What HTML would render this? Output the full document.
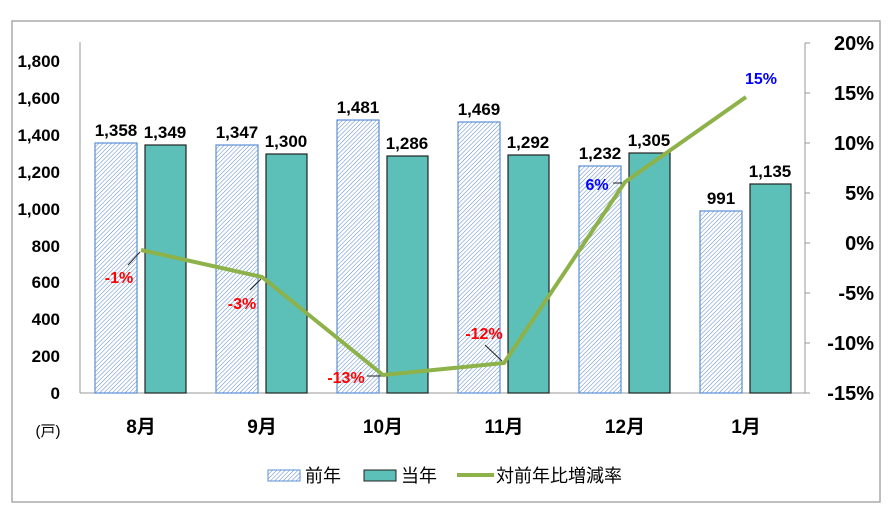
<!DOCTYPE html>
<html><head><meta charset="utf-8"><style>
body{margin:0;background:#fff;}
svg{display:block;font-family:"Liberation Sans","Noto Sans CJK JP",sans-serif;}
</style></head><body>
<svg width="892" height="524" viewBox="0 0 892 524" xmlns="http://www.w3.org/2000/svg">
<defs>
<pattern id="h" patternUnits="userSpaceOnUse" width="3" height="3" patternTransform="rotate(45)">
<rect width="3" height="3" fill="#fff"/><line x1="0" y1="0" x2="0" y2="3" stroke="#5a88cc" stroke-width="1"/>
</pattern>
</defs>
<rect x="12" y="21" width="868" height="481" fill="#fff" stroke="#aaa" stroke-width="1.5"/>
<line x1="80" y1="42" x2="80" y2="393" stroke="#999"/>
<line x1="80" y1="393" x2="805" y2="393" stroke="#999"/>
<line x1="805" y1="43" x2="805" y2="393" stroke="#999"/>
<g stroke="#999"><line x1="805" y1="43" x2="810" y2="43"/><line x1="805" y1="93" x2="810" y2="93"/><line x1="805" y1="143" x2="810" y2="143"/><line x1="805" y1="193" x2="810" y2="193"/><line x1="805" y1="243" x2="810" y2="243"/><line x1="805" y1="293" x2="810" y2="293"/><line x1="805" y1="343" x2="810" y2="343"/><line x1="805" y1="393" x2="810" y2="393"/></g>
<g font-size="17" font-weight="bold" text-anchor="end" fill="#000">
<text x="60" y="399">0</text><text x="60" y="362">200</text><text x="60" y="325">400</text><text x="60" y="288">600</text><text x="60" y="252">800</text><text x="60" y="215">1,000</text><text x="60" y="178">1,200</text><text x="60" y="141">1,400</text><text x="60" y="104">1,600</text><text x="60" y="67">1,800</text>
</g>
<g font-size="20" font-weight="bold" text-anchor="end" fill="#000">
<text x="874" y="50">20%</text><text x="874" y="100">15%</text><text x="874" y="150">10%</text><text x="874" y="200">5%</text><text x="874" y="250">0%</text><text x="874" y="300">-5%</text><text x="874" y="350">-10%</text><text x="874" y="400">-15%</text>
</g>
<text x="48" y="436" font-size="15" text-anchor="middle">(戸)</text>
<g font-size="19" font-weight="bold" text-anchor="middle">
<text x="141" y="433">8月</text><text x="262" y="433">9月</text><text x="383" y="433">10月</text><text x="504" y="433">11月</text><text x="625" y="433">12月</text><text x="746" y="433">1月</text>
</g>
<g stroke-width="1.2">
<rect x="95" y="143" width="42" height="250" fill="url(#h)" stroke="#5b8fd6"/>
<rect x="145" y="145" width="41" height="248" fill="#5cbfb8" stroke="#222"/>
<rect x="216" y="145" width="42" height="248" fill="url(#h)" stroke="#5b8fd6"/>
<rect x="266" y="154" width="41" height="239" fill="#5cbfb8" stroke="#222"/>
<rect x="337" y="120" width="42" height="273" fill="url(#h)" stroke="#5b8fd6"/>
<rect x="387" y="156" width="41" height="237" fill="#5cbfb8" stroke="#222"/>
<rect x="458" y="122" width="42" height="271" fill="url(#h)" stroke="#5b8fd6"/>
<rect x="508" y="155" width="41" height="238" fill="#5cbfb8" stroke="#222"/>
<rect x="579" y="166" width="42" height="227" fill="url(#h)" stroke="#5b8fd6"/>
<rect x="629" y="153" width="41" height="240" fill="#5cbfb8" stroke="#222"/>
<rect x="700" y="211" width="42" height="182" fill="url(#h)" stroke="#5b8fd6"/>
<rect x="750" y="184" width="41" height="209" fill="#5cbfb8" stroke="#222"/>
</g>
<g font-size="17" font-weight="bold" text-anchor="middle">
<text x="116" y="136">1,358</text><text x="165" y="138">1,349</text>
<text x="237" y="138">1,347</text><text x="286" y="147">1,300</text>
<text x="358" y="113">1,481</text><text x="407" y="149">1,286</text>
<text x="479" y="115">1,469</text><text x="528" y="148">1,292</text>
<text x="600" y="159">1,232</text><text x="649" y="146">1,305</text>
<text x="721" y="204">991</text><text x="770" y="177">1,135</text>
</g>
<g stroke="#222" stroke-width="1">
<line x1="128" y1="265" x2="140" y2="252"/><line x1="250" y1="290" x2="261" y2="279"/>
<line x1="367" y1="376" x2="382" y2="376"/><line x1="485" y1="345" x2="502" y2="361"/>
<line x1="613" y1="183" x2="623" y2="183"/>
</g>
<polyline points="141,250 262,277 383,375 504,363 625,182 746,97" fill="none" stroke="#8db24a" stroke-width="4" stroke-linejoin="round"/>
<g font-size="16" font-weight="bold" text-anchor="middle">
<text x="119" y="283" fill="#f00">-1%</text><text x="242" y="309" fill="#f00">-3%</text>
<text x="346" y="383" fill="#f00">-13%</text><text x="484" y="339" fill="#f00">-12%</text>
<text x="597" y="190" fill="#00f">6%</text><text x="761" y="84" fill="#00f">15%</text>
</g>
<rect x="268" y="470" width="32" height="11" fill="url(#h)" stroke="#5b8fd6"/>
<text x="305" y="482" font-size="18">前年</text>
<rect x="364" y="470" width="32" height="11" fill="#5cbfb8" stroke="#222"/>
<text x="401" y="482" font-size="18">当年</text>
<line x1="457" y1="475" x2="494" y2="475" stroke="#8db24a" stroke-width="4"/>
<text x="496" y="482" font-size="18">対前年比増減率</text>
</svg>
</body></html>
